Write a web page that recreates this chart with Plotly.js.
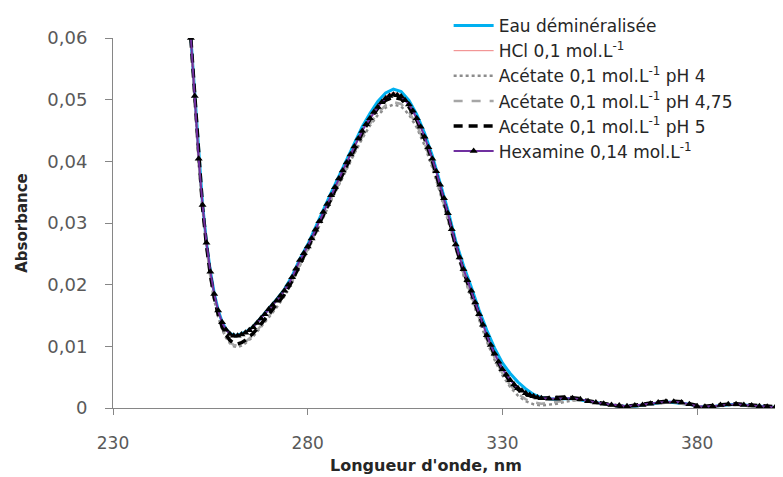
<!DOCTYPE html>
<html>
<head>
<meta charset="utf-8">
<script src="https://cdn.plot.ly/plotly-3.0.1.min.js"></script>
<style>html,body{margin:0;padding:0;background:#fff;}#chart{width:783px;height:477px;}</style>
</head>
<body>
<div id="chart"></div>
<script>
// Wavelength (nm) for the first five series
const wavelength = [250,251,252,253,254,255,256,257,258,259,260,261,262,263,264,
266,268,270,272,274,276,278,280,282,284,286,288,290,292,294,296,298,300,
302,304,306,308,310,312,314,316,318,320,322,324,326,328,330,332,334,336,338,340,
342,344,346,348,350,352,354,356,358,360,362,364,366,368,370,372,374,376,378,380,
382,384,386,388,390,392,394,396,398,400];

// Wavelength (nm) for the Hexamine series (finer sampling, marker on each point)
const hexWavelength = [250,251,252,253,254,255,256,257,258,259,260,261,262,263,264,265,266,267,268,269,
270,271,272,273,274,275,276,277,278,279,280,281,282,283,284,285,286,287,288,289,
290,291,292,293,294,295,296,297,298,299,300,301,302,303,304,305,306,307,308,309,
310,311,312,313,314,315,316,317,318,319,320,321,322,323,324,325,326,327,328,329,
330,331,332,333,334,335,336,337,338,339,340,
342,344,346,348,350,352,354,356,358,360,362,364,366,368,370,372,374,376,378,380,
382,384,386,388,390,392,394,396,398,400];

const seriesNames = [
  "Eau déminéralisée",
  "HCl 0,1 mol.L<sup>-1</sup>",
  "Acétate 0,1 mol.L<sup>-1</sup> pH 4",
  "Acétate 0,1 mol.L<sup>-1</sup> pH 4,75",
  "Acétate 0,1 mol.L<sup>-1</sup> pH 5",
  "Hexamine 0,14 mol.L<sup>-1</sup>"
];

const eau = [0.0600,0.0508,0.0406,0.0330,0.0269,0.0222,0.0186,0.0159,0.0140,0.0128,0.0121,0.0118,0.0118,0.0120,0.0123,
0.0132,0.0146,0.0161,0.0176,0.0192,0.0214,0.0242,0.0265,0.0292,0.0321,0.0349,0.0376,0.0403,0.0430,0.0456,0.0478,0.0497,0.0511,
0.0517,0.0513,0.0499,0.0476,0.0446,0.0409,0.0367,0.0321,0.0271,0.0231,0.0196,0.0159,0.0126,0.0097,0.0073,0.0056,0.0042,0.0031,0.0022,0.0017,
0.0015,0.0014,0.0015,0.0015,0.0013,0.0011,0.0009,0.0007,0.0005,0.0003,0.0003,0.0003,0.0005,0.0006,0.0008,0.0010,0.0009,0.0008,0.0006,0.0003,
0.0002,0.0002,0.0004,0.0005,0.0006,0.0005,0.0004,0.0002,0.0002,0.0001];

const hcl = [0.0598,0.0505,0.0403,0.0328,0.0267,0.0220,0.0184,0.0157,0.0138,0.0126,0.0119,0.0116,0.0116,0.0118,0.0121,
0.0130,0.0144,0.0159,0.0173,0.0189,0.0211,0.0239,0.0262,0.0289,0.0318,0.0346,0.0373,0.0400,0.0426,0.0452,0.0473,0.0492,0.0506,
0.0512,0.0508,0.0494,0.0472,0.0442,0.0405,0.0363,0.0317,0.0267,0.0227,0.0191,0.0154,0.0120,0.0090,0.0065,0.0047,0.0034,0.0025,0.0019,0.0016,
0.0015,0.0015,0.0016,0.0015,0.0013,0.0011,0.0009,0.0006,0.0004,0.0003,0.0003,0.0004,0.0005,0.0007,0.0008,0.0009,0.0010,0.0008,0.0006,0.0004,
0.0002,0.0003,0.0004,0.0005,0.0006,0.0005,0.0003,0.0003,0.0002,0.0001];

const acetatePH4 = [0.0597,0.0502,0.0399,0.0323,0.0261,0.0213,0.0175,0.0148,0.0128,0.0114,0.0105,0.0100,0.0099,0.0101,0.0105,
0.0116,0.0131,0.0147,0.0163,0.0181,0.0204,0.0231,0.0255,0.0281,0.0309,0.0336,0.0362,0.0388,0.0413,0.0437,0.0458,0.0475,0.0487,
0.0492,0.0489,0.0476,0.0455,0.0426,0.0390,0.0349,0.0304,0.0256,0.0215,0.0179,0.0142,0.0108,0.0078,0.0053,0.0034,0.0020,0.0011,0.0006,0.0004,
0.0005,0.0007,0.0010,0.0012,0.0012,0.0010,0.0008,0.0006,0.0004,0.0003,0.0002,0.0003,0.0004,0.0006,0.0008,0.0009,0.0009,0.0008,0.0005,0.0003,
0.0001,0.0002,0.0004,0.0005,0.0005,0.0004,0.0003,0.0002,0.0001,0.0000];

const acetatePH475 = [0.0598,0.0503,0.0400,0.0324,0.0262,0.0214,0.0177,0.0150,0.0130,0.0116,0.0107,0.0102,0.0101,0.0103,0.0107,
0.0118,0.0133,0.0149,0.0165,0.0183,0.0206,0.0233,0.0257,0.0283,0.0311,0.0338,0.0364,0.0390,0.0416,0.0440,0.0461,0.0478,0.0491,
0.0496,0.0493,0.0480,0.0459,0.0430,0.0394,0.0353,0.0308,0.0259,0.0218,0.0182,0.0145,0.0111,0.0081,0.0056,0.0037,0.0023,0.0014,0.0009,0.0007,
0.0008,0.0010,0.0012,0.0013,0.0012,0.0010,0.0008,0.0006,0.0004,0.0002,0.0002,0.0003,0.0005,0.0006,0.0008,0.0009,0.0009,0.0007,0.0005,0.0002,
0.0001,0.0002,0.0004,0.0005,0.0005,0.0004,0.0003,0.0002,0.0001,0.0000];

const acetatePH5 = [0.0599,0.0504,0.0401,0.0325,0.0264,0.0216,0.0179,0.0152,0.0132,0.0119,0.0110,0.0105,0.0104,0.0106,0.0110,
0.0121,0.0136,0.0152,0.0167,0.0184,0.0206,0.0233,0.0257,0.0284,0.0313,0.0341,0.0368,0.0395,0.0421,0.0446,0.0468,0.0486,0.0499,
0.0504,0.0501,0.0488,0.0467,0.0437,0.0401,0.0359,0.0313,0.0263,0.0222,0.0187,0.0150,0.0116,0.0086,0.0061,0.0043,0.0030,0.0022,0.0018,0.0016,
0.0016,0.0017,0.0018,0.0017,0.0015,0.0012,0.0010,0.0008,0.0005,0.0003,0.0003,0.0004,0.0006,0.0008,0.0010,0.0011,0.0011,0.0010,0.0007,0.0004,
0.0003,0.0004,0.0006,0.0007,0.0007,0.0006,0.0005,0.0004,0.0003,0.0002];

const hexamine = [0.0600,0.0506,0.0404,0.0329,0.0268,0.0221,0.0185,0.0158,0.0139,0.0127,0.0120,0.0117,0.0117,0.0119,0.0122,0.0126,0.0131,0.0138,0.0145,0.0152,
0.0160,0.0167,0.0174,0.0182,0.0190,0.0200,0.0212,0.0226,0.0240,0.0251,0.0262,0.0275,0.0289,0.0303,0.0318,0.0331,0.0345,0.0358,0.0372,0.0385,
0.0398,0.0411,0.0424,0.0437,0.0449,0.0460,0.0470,0.0480,0.0488,0.0496,0.0502,0.0506,0.0508,0.0507,0.0505,0.0499,0.0492,0.0482,0.0470,0.0456,
0.0440,0.0423,0.0404,0.0384,0.0362,0.0340,0.0316,0.0290,0.0265,0.0244,0.0225,0.0207,0.0190,0.0171,0.0152,0.0135,0.0118,0.0102,0.0088,0.0075,
0.0063,0.0054,0.0045,0.0038,0.0032,0.0028,0.0024,0.0021,0.0019,0.0017,0.0016,
0.0015,0.0015,0.0016,0.0016,0.0014,0.0011,0.0009,0.0007,0.0005,0.0004,0.0003,0.0004,0.0005,0.0007,0.0009,0.0010,0.0010,0.0009,0.0006,0.0003,
0.0002,0.0003,0.0005,0.0006,0.0006,0.0005,0.0004,0.0003,0.0002,0.0001];

const yTickVals = [0, 0.01, 0.02, 0.03, 0.04, 0.05, 0.06];
const yTickText = ["0", "0,01", "0,02", "0,03", "0,04", "0,05", "0,06"];
const xTickVals = [230, 280, 330, 380];
const xTickText = ["230", "280", "330", "380"];

const traces = [
  {x: wavelength, y: eau, name: seriesNames[0], mode: "lines",
   line: {color: "#00B0F0", width: 3}},
  {x: wavelength, y: hcl, name: seriesNames[1], mode: "lines",
   line: {color: "#F08080", width: 1}},
  {x: wavelength, y: acetatePH4, name: seriesNames[2], mode: "lines",
   line: {color: "#8C8C8C", width: 2.5, dash: "dot"}},
  {x: wavelength, y: acetatePH475, name: seriesNames[3], mode: "lines",
   line: {color: "#A6A6A6", width: 2.5, dash: "dash"}},
  {x: wavelength, y: acetatePH5, name: seriesNames[4], mode: "lines",
   line: {color: "#000000", width: 3.5, dash: "9px,6px"}},
  {x: hexWavelength, y: hexamine, name: seriesNames[5], mode: "lines+markers",
   line: {color: "#7030A0", width: 2},
   marker: {symbol: "triangle-up", size: 7, color: "#000000"}}
];

const layout = {
  width: 783, height: 477,
  margin: {l: 113, r: 8, t: 25, b: 69},
  paper_bgcolor: "#ffffff", plot_bgcolor: "#ffffff",
  font: {family: "DejaVu Sans, Arial, sans-serif", color: "#404040"},
  showlegend: true,
  legend: {x: 0.507, y: 1.081, xanchor: "left", yanchor: "top",
    bgcolor: "rgba(255,255,255,0)", font: {size: 17, color: "#262626"},
    itemwidth: 40, tracegroupgap: 0},
  xaxis: {range: [230, 400], tickvals: xTickVals, ticktext: xTickText,
    showgrid: false, zeroline: false, showline: true, linecolor: "#868686", linewidth: 1,
    ticks: "outside", ticklen: 6, tickcolor: "#868686", ticklabelstandoff: 14,
    tickfont: {size: 17, color: "#595959"}},
  yaxis: {range: [0, 0.06], tickvals: yTickVals, ticktext: yTickText,
    showgrid: false, zeroline: false, showline: true, linecolor: "#868686", linewidth: 1,
    ticks: "outside", ticklen: 7, tickcolor: "#868686", ticklabelstandoff: 14,
    tickfont: {size: 18, color: "#595959"},
    title: {text: "<b>Absorbance</b>", font: {size: 15, color: "#262626"}, standoff: 16}},
  annotations: [{
    text: "<b>Longueur d'onde, nm</b>", xref: "paper", yref: "paper",
    x: 0.473, y: -0.156, xanchor: "center", yanchor: "middle", showarrow: false,
    font: {size: 16, color: "#262626"}
  }]
};

Plotly.newPlot("chart", traces, layout, {staticPlot: true, displayModeBar: false});
</script>
</body>
</html>
